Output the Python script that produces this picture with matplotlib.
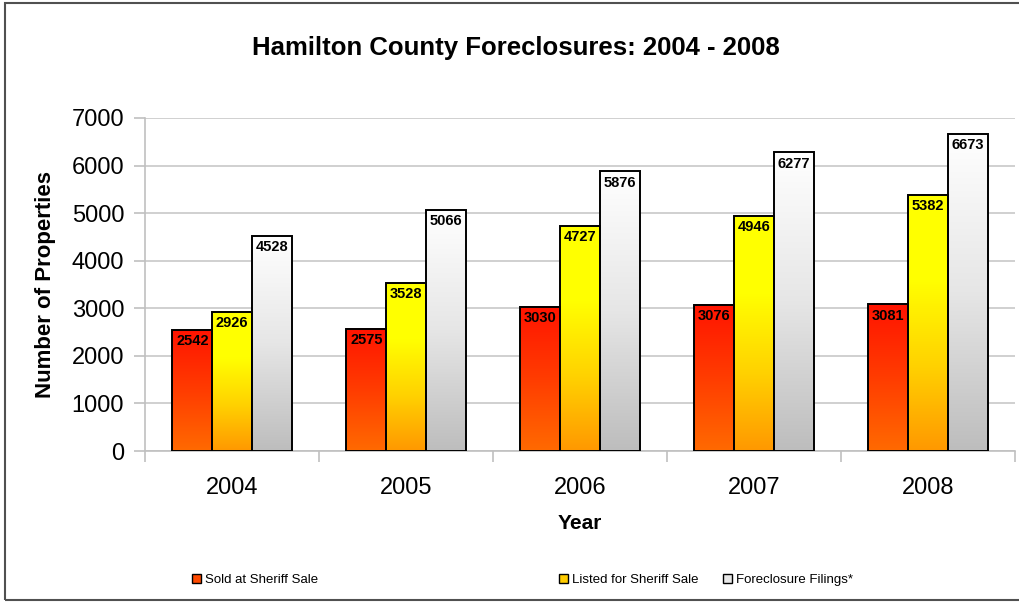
import numpy as np
import matplotlib
matplotlib.use('Agg')
import matplotlib.pyplot as plt
from matplotlib.colors import LinearSegmentedColormap
from matplotlib.patches import Patch, Rectangle

years = ['2004', '2005', '2006', '2007', '2008']
sold = [2542, 2575, 3030, 3076, 3081]
listed = [2926, 3528, 4727, 4946, 5382]
filings = [4528, 5066, 5876, 6277, 6673]
series_names = ['Sold at Sheriff Sale', 'Listed for Sheriff Sale', 'Foreclosure Filings*']

plt.rcParams['font.family'] = ['Liberation Sans', 'DejaVu Sans']

# gradients: bottom -> top
cmaps = [
    LinearSegmentedColormap.from_list('red', ['#ff6a00', '#ff3c00', '#ff1400']),
    LinearSegmentedColormap.from_list('yel', ['#ff9800', '#ffd200', '#ffff00', '#ffff00']),
    LinearSegmentedColormap.from_list('wht', ['#bdbdbd', '#e6e6e6', '#ffffff']),
]
legend_colors = ['#ff4a00', '#ffcc00', '#e8e8e8']

fig = plt.figure(figsize=(10.19, 6.03), dpi=100)
ax = fig.add_axes([145 / 1019, 152 / 603, 870 / 1019, 333 / 603])

x = np.arange(len(years))
bw = 0.228
grad = np.linspace(0, 1, 256).reshape(-1, 1)

for i, vals in enumerate([sold, listed, filings]):
    bars = ax.bar(x + (i - 1) * bw, vals, bw, facecolor='none',
                  edgecolor='black', linewidth=1.4, zorder=4)
    for b, v in zip(bars, vals):
        x0 = b.get_x()
        ax.imshow(grad, extent=[x0, x0 + b.get_width(), 0, b.get_height()],
                  origin='lower', aspect='auto', cmap=cmaps[i], zorder=3)
        ax.annotate(str(v), (b.get_x() + b.get_width() / 2, v),
                    xytext=(0, -3), textcoords='offset points',
                    ha='center', va='top', fontsize=10.5, fontweight='bold',
                    color='black', zorder=5)

ax.set_xlim(-0.5, len(years) - 0.5)
ax.set_ylim(0, 7000)
ax.set_yticks(range(0, 7001, 1000))
ax.set_xticks(np.arange(len(years) + 1) - 0.5)
ax.set_xticklabels([])
ax.set_xticks(x, minor=True)
ax.set_xticklabels(years, minor=True)
ax.tick_params(axis='x', which='minor', length=0, pad=19, labelsize=17)
ax.tick_params(axis='x', which='major', length=8, color='#c0c0c0', width=1.2)
ax.tick_params(axis='y', length=8, color='#c0c0c0', width=1.2, pad=7, labelsize=17)

ax.grid(axis='y', color='#c8c8c8', linewidth=1.2, zorder=0)
ax.set_axisbelow(True)
for s in ['top', 'right']:
    ax.spines[s].set_visible(False)
for s in ['left', 'bottom']:
    ax.spines[s].set_color('#c0c0c0')
    ax.spines[s].set_linewidth(1.2)

ax.set_xlabel('Year', fontsize=15, fontweight='bold')
ax.xaxis.set_label_coords(0.5, -0.19)
ax.set_ylabel('Number of Properties', fontsize=16, fontweight='bold')
ax.yaxis.set_label_coords(-0.102, 0.5)

fig.text(0.506, 1 - 48 / 603, 'Hamilton County Foreclosures: 2004 - 2008',
         ha='center', va='center', fontsize=18.5, fontweight='bold')

# legend entries, one per series
leg_x = [192, 559, 723]
for name, col, lx in zip(series_names, legend_colors, leg_x):
    h = Patch(facecolor=col, edgecolor='black', linewidth=1.0)
    fig.legend(handles=[h], labels=[name], loc='center left',
               bbox_to_anchor=(lx / 1019, 1 - 580 / 603), frameon=False,
               fontsize=9.5, handlelength=0.7, handleheight=0.7,
               handletextpad=0.3, borderpad=0, borderaxespad=0)

# outer frame
fig.patches.append(Rectangle((5 / 1019, 3 / 603), 1.1, 597 / 603,
                             transform=fig.transFigure, fill=False,
                             edgecolor='#505050', linewidth=1.5))

fig.savefig('out.png', dpi=100)
